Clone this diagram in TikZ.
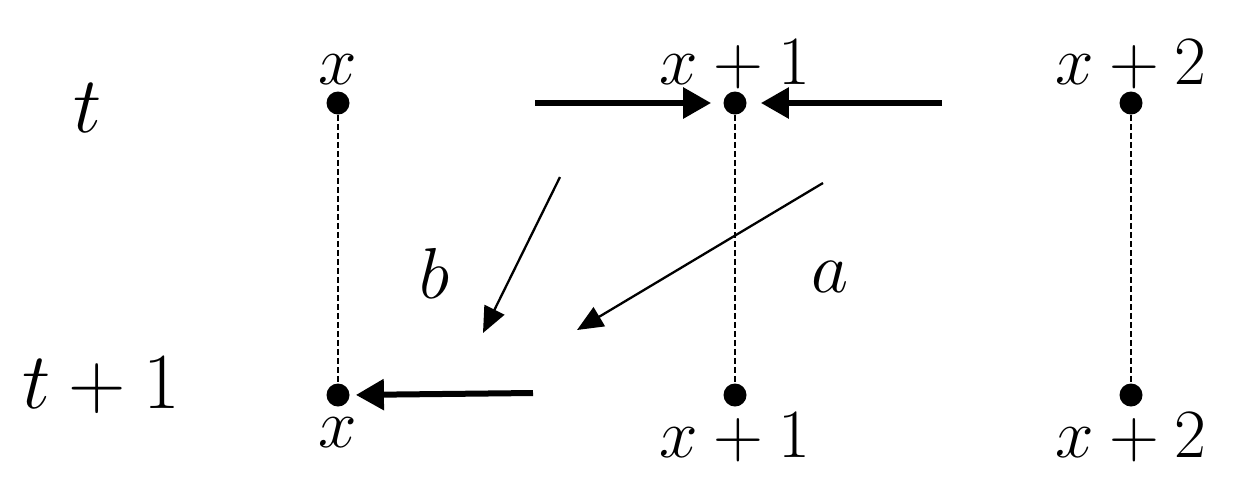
\documentclass[tikz,border=0pt]{standalone}
\usetikzlibrary{arrows.meta}
\begin{document}
\begin{tikzpicture}[x=0.5pt,y=-0.5pt,
 dot/.style={circle,fill=black,inner sep=0pt,minimum size=11.5pt},
 lab/.style={font=\Huge,scale=1.39,inner sep=0pt,anchor=base},
 biglab/.style={font=\Huge,scale=1.6,inner sep=0pt,anchor=base},
 ablab/.style={font=\Huge,scale=1.45,inner sep=0pt,anchor=base},
 thickarr/.style={line width=3pt,-{Triangle[length=14pt,width=15pt]}},
 thinarr/.style={line width=1.15pt,-{Triangle[length=13pt,width=11pt]}},
 vline/.style={dash pattern=on 3pt off 1.5pt, line width=0.6pt}]
\useasboundingbox (0,0) rectangle (1233,484);
% dots
\node[dot] (d0t) at (338,103) {};
\node[dot] (d1t) at (735,103) {};
\node[dot] (d2t) at (1131,103) {};
\node[dot] (d0b) at (338,395) {};
\node[dot] (d1b) at (735,395) {};
\node[dot] (d2b) at (1131,395) {};
% dashed verticals
\draw[vline] (d0t) -- (d0b);
\draw[vline] (d1t) -- (d1b);
\draw[vline] (d2t) -- (d2b);
% row labels
\node[biglab] (lt) at (88,132) {$t$};
\node[biglab] (lt1) at (101,408) {$t+1$};
% column labels
\node[lab] (lx0) at (338,84) {$x$};
\node[lab] (lx1) at (735,84) {$x+1$};
\node[lab] (lx2) at (1131,84) {$x+2$};
\node[lab] (bx0) at (338,447) {$x$};
\node[lab] (bx1) at (735,457) {$x+1$};
\node[lab] (bx2) at (1131,457) {$x+2$};
% a, b
\node[ablab] (lb) at (435,298) {$b$};
\node[ablab] (la) at (830,292) {$a$};
% thick arrows
\coordinate (s1) at (535,103);
\coordinate (s2) at (942,103);
\coordinate (s3) at (533,393);
\draw[thickarr,shorten >=6pt] (s1) -- (d1t.west);
\draw[thickarr,shorten >=7pt] (s2) -- (d1t.east);
\draw[thickarr,shorten >=3pt] (s3) -- (d0b.east);
% thin arrows
\coordinate (bs) at (560,177);
\coordinate (be) at (483,333);
\coordinate (as) at (823,183);
\coordinate (ae) at (577,330);
\draw[thinarr] (bs) -- (be);
\draw[thinarr] (as) -- (ae);
\end{tikzpicture}
\end{document}
